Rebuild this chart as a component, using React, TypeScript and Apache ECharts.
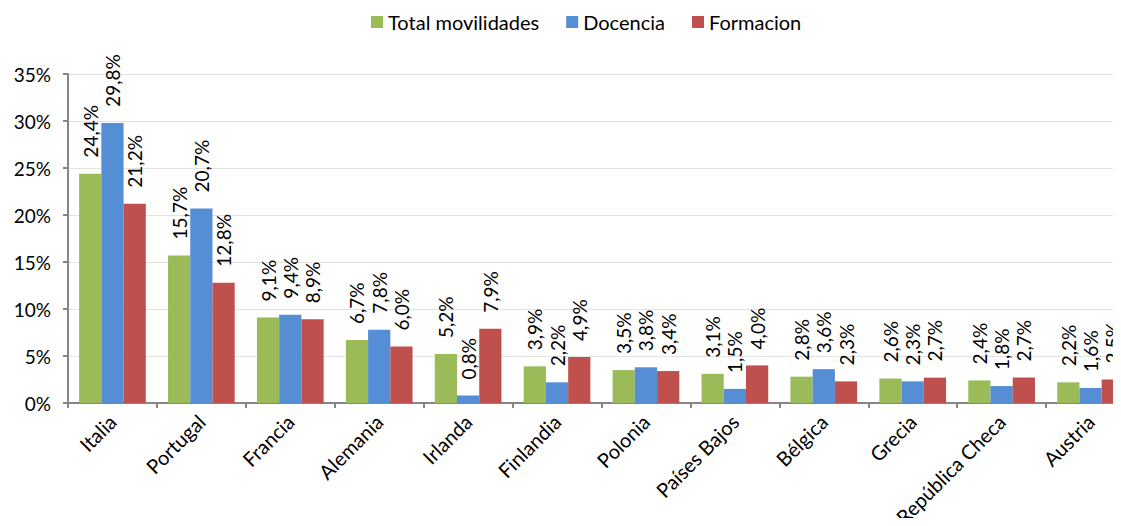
import React, { useEffect, useRef } from "react";
import * as echarts from "echarts";

const categories = [
  "Italia",
  "Portugal",
  "Francia",
  "Alemania",
  "Irlanda",
  "Finlandia",
  "Polonia",
  "Países Bajos",
  "Bélgica",
  "Grecia",
  "República Checa",
  "Austria",
];
const totalMovilidades = [24.4, 15.7, 9.1, 6.7, 5.2, 3.9, 3.5, 3.1, 2.8, 2.6, 2.4, 2.2];
const docencia = [29.8, 20.7, 9.4, 7.8, 0.8, 2.2, 3.8, 1.5, 3.6, 2.3, 1.8, 1.6];
const formacion = [21.2, 12.8, 8.9, 6.0, 7.9, 4.9, 3.4, 4.0, 2.3, 2.7, 2.7, 2.5];

const FONT = "Lato, 'Open Sans', sans-serif";

export default function App() {
  const ref = useRef<HTMLDivElement>(null);
  useEffect(() => {
    if (!ref.current) return;
    const chart = echarts.init(ref.current, null, { renderer: "svg" });
    const label = {
      show: true,
      position: "top" as const,
      rotate: 90,
      align: "left" as const,
      verticalAlign: "middle" as const,
      distance: 16,
      color: "#000",
      fontFamily: FONT,
      fontSize: 19,
      formatter: (p: any) => p.value.toFixed(1).replace(".", ",") + "%",
    };
    const mk = (name: string, data: number[], color: string) => ({
      name,
      type: "bar" as const,
      data,
      itemStyle: { color },
      barGap: "0%",
      barCategoryGap: "25%",
      label,
    });
    chart.setOption({
      animation: false,
      legend: {
        top: 7,
        left: 366,
        itemWidth: 12,
        itemHeight: 12,
        itemGap: 27,
        icon: "rect",
        textStyle: { fontFamily: FONT, fontSize: 20, color: "#000" },
      },
      grid: {
        left: 68,
        width: 1067,
        top: 74,
        bottom: 123,
        containLabel: false,
        outerBoundsMode: "none",
      },
      xAxis: {
        type: "category",
        data: categories,
        axisLine: { lineStyle: { color: "#868686", width: 2 } },
        axisTick: { show: true, length: 5, lineStyle: { color: "#868686", width: 2 } },
        axisLabel: {
          rotate: 45,
          interval: 0,
          margin: 15,
          color: "#000",
          fontFamily: FONT,
          fontSize: 20,
        },
      },
      yAxis: {
        type: "value",
        min: 0,
        max: 35,
        interval: 5,
        axisLine: { show: true, lineStyle: { color: "#868686", width: 2 } },
        axisTick: { show: true, length: 5, lineStyle: { color: "#868686", width: 2 } },
        splitLine: { lineStyle: { color: "#e3e3e3", width: 1 } },
        axisLabel: {
          formatter: "{value}%",
          margin: 17,
          color: "#000",
          fontFamily: FONT,
          fontSize: 19,
        },
      },
      series: [
        mk("Total movilidades", totalMovilidades, "#9BBB59"),
        mk("Docencia", docencia, "#558ED5"),
        mk("Formacion", formacion, "#C0504D"),
      ],
    });
    return () => chart.dispose();
  }, []);
  return <div ref={ref} style={{ width: 1121, height: 526, margin: -8 }} />;
}
